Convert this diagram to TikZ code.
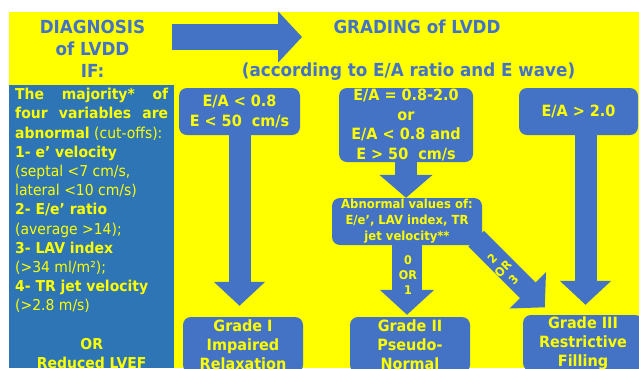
\documentclass[tikz,border=0pt]{standalone}
\usepackage{fontspec}
\setmainfont{DejaVu Sans}[FakeStretch=0.93]
\usetikzlibrary{arrows.meta,positioning}
\definecolor{ylw}{RGB}{255,255,0}
\definecolor{cblue}{RGB}{68,114,196}
\definecolor{pblue}{RGB}{46,117,182}

\begin{document}
\begin{tikzpicture}[x=1pt,y=-1pt,
  box node/.style={rounded corners=8pt,fill=cblue,text=ylw,align=center,inner sep=0pt,
    font=\bfseries\fontsize{15.5}{19.5}\selectfont},
  grade node/.style={box node,minimum width=120pt,minimum height=56pt,
    font=\bfseries\fontsize{15.5}{19}\selectfont},
  title node/.style={text=cblue,align=center,font=\bfseries\fontsize{18}{22}\selectfont},
  count node/.style={text=ylw,align=center,inner sep=0pt,font=\bfseries\fontsize{12}{15}\selectfont},
  fat arrow/.style={draw=cblue,line width=22pt,-{Triangle[width=50pt,length=24pt]}}]

  \fill[white] (0,0) rectangle (639,368);
  \clip (0,0) rectangle (639,368);
  \fill[ylw] (9,12) rectangle (639,368);
  \fill[pblue] (9,85) rectangle (174,368);

  \node[title node] (diag) at (92.5,49) {DIAGNOSIS\\of LVDD\\IF:};
  \node[title node] (grad) at (417,27) {GRADING of LVDD};
  \node[title node] (ratio) at (408.5,72) {(according to E/A ratio and E wave)};

  \node[text=ylw,align=left,inner sep=0pt,anchor=north west,
    font=\fontsize{15}{19.2}\selectfont] (crit) at (15,88)
    {\makebox[153pt][s]{\bfseries The majority* of}\\
     \makebox[153pt][s]{\bfseries four variables are}\\
     \textbf{abnormal} (cut-offs):\\
     \textbf{1- e’ velocity}\\
     (septal <7 cm/s,\\
     lateral <10 cm/s)\\
     \textbf{2- E/e’ ratio}\\
     (average >14);\\
     \textbf{3- LAV index}\\
     (>34 ml/m²);\\
     \textbf{4- TR jet velocity}\\
     (>2.8 m/s)\\[19.2pt]
     \makebox[153pt]{\bfseries OR}\\
     \makebox[153pt]{\bfseries Reduced LVEF}};

  \node[box node,minimum width=121pt,minimum height=47pt] (ea) at (239.5,111.5)
    {E/A < 0.8\\E < 50\ \ cm/s};
  \node[box node,minimum width=134pt,minimum height=74pt] (eb) at (406,125)
    {E/A = 0.8-2.0\\or\\E/A < 0.8 and\\E > 50\ \ cm/s};
  \node[box node,minimum width=119pt,minimum height=47pt] (ed) at (578.5,111.5)
    {E/A > 2.0};
  \node[box node,minimum width=150pt,minimum height=47pt,
    font=\bfseries\fontsize{12.5}{16}\selectfont] (ab) at (407,221.5)
    {Abnormal values of:\\E/e’, LAV index, TR\\jet velocity**};

  \node[grade node] (g1) at (243,345) {Grade I\\Impaired\\Relaxation};
  \node[grade node] (g2) at (410,345) {Grade II\\Pseudo-\\Normal};
  \node[grade node] (g3) at (583,343) {Grade III\\Restrictive\\Filling};

  \coordinate (arrL) at (172,37);
  \coordinate (arrR) at (302,37);
  \draw[fat arrow,line width=26pt] (arrL) -- (arrR);

  \draw[fat arrow,shorten >=11pt] (ea.south) -- (ea.south |- g1.north);
  \draw[fat arrow,-{Triangle[width=52pt,length=23pt]}] (eb.south) -- (eb.south |- ab.north);
  \draw[fat arrow,line width=30pt,-{Triangle[width=53pt,length=25pt]},shorten >=2pt]
    (ab.south) -- (ab.south |- g2.north);
  \draw[fat arrow,shorten >=10pt] ([xshift=7pt]ed.south) -- ([xshift=7pt]ed.south |- g3.north);
  \draw[fat arrow] ([shift={(-6,-6.5)}]ab.south east) -- ([shift={(22,-7.5)}]g3.north west);

  \node[count node] (n01) at (408,275) {0\\OR\\1};
  \node[count node,rotate=45] (n23) at (503,269) {2\\OR\\3};
\end{tikzpicture}
\end{document}
